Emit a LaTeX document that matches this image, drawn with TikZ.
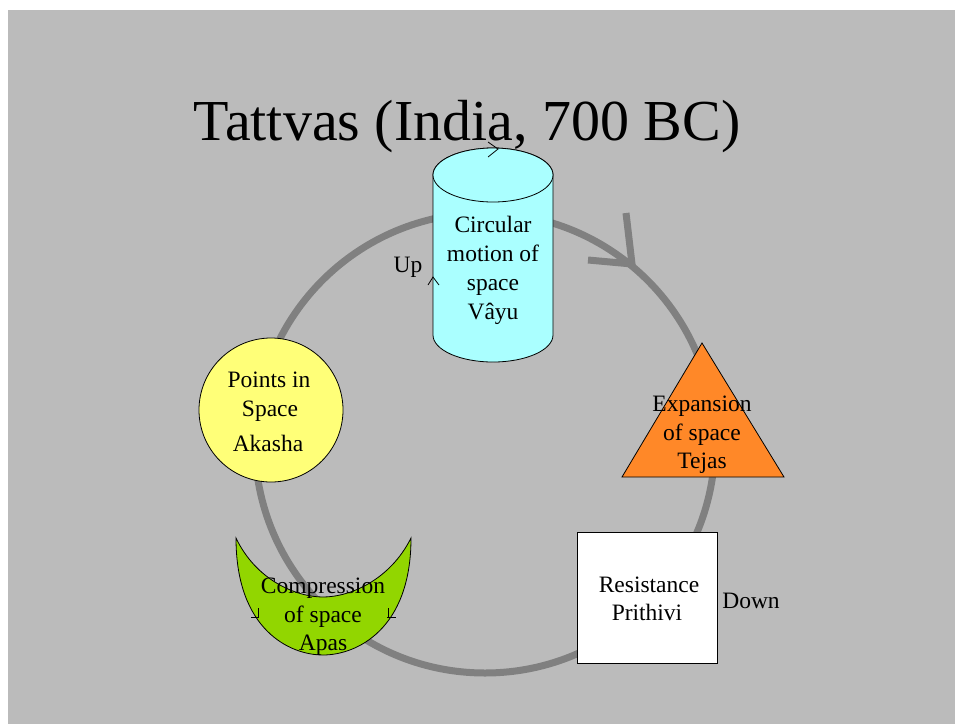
\documentclass[tikz,border=0pt]{standalone}
\usepackage{fontspec}
\setmainfont{Liberation Serif}
\definecolor{bggray}{RGB}{187,187,187}
\definecolor{cyclegray}{RGB}{128,128,128}
\definecolor{cylfill}{RGB}{170,255,255}
\definecolor{yelfill}{RGB}{255,255,120}
\definecolor{orafill}{RGB}{255,136,40}
\definecolor{grnfill}{RGB}{146,214,0}
\begin{document}
\begin{tikzpicture}[x=1pt,y=-1pt,
  lbl/.style={anchor=base,font=\fontsize{23.5}{29}\selectfont,inner sep=0pt},
  shapeline/.style={draw=black,line width=0.8pt},
  cycleline/.style={draw=cyclegray,line width=7pt}]
\useasboundingbox (0,0) rectangle (955,724);
\fill[white] (0,0) rectangle (955,724);
\fill[bggray] (8,10) rectangle (955,724);
% cycle
\draw[cycleline] (485,443) circle[radius=230pt];
\draw[cycleline,line cap=butt,line join=miter] (626,213) -- (632,264) -- (588,260);
% title
\node[anchor=base,inner sep=0pt,font=\fontsize{58}{70}\selectfont] (title) at (467,140) {Tattvas (India, 700 BC)};
% cylinder (Vayu)
\path[shapeline,fill=cylfill] (433,175) -- (433,335)
  arc[start angle=180,end angle=360,x radius=60pt,y radius=27pt] -- (553,175)
  arc[start angle=0,end angle=180,x radius=60pt,y radius=27pt] -- cycle;
\path[shapeline,fill=cylfill] (493,175) ellipse[x radius=60pt,y radius=27pt];
\draw[shapeline] (488,142) -- (498,149) -- (488,157);
\draw[shapeline] (428,285) -- (433,277) -- (439,285);
\node[lbl] (v1) at (493,232) {Circular};
\node[lbl] (v2) at (493,261) {motion of};
\node[lbl] (v3) at (493,290) {space};
\node[lbl] (v4) at (493,319) {Vâyu};
\node[lbl] (up) at (408,272) {Up};
% yellow circle (Akasha)
\path[shapeline,fill=yelfill] (271,410) circle[radius=72pt];
\node[lbl] (a1) at (269,387) {Points in};
\node[lbl] (a2) at (270,416) {Space};
\node[lbl] (a3) at (268,451) {Akasha};
% triangle (Tejas)
\path[shapeline,fill=orafill] (702,343) -- (784,477) -- (622,477) -- cycle;
\node[lbl] (t1) at (702,411) {Expansion};
\node[lbl] (t2) at (702,440) {of space};
\node[lbl] (t3) at (702,468) {Tejas};
% square (Prithivi)
\path[shapeline,fill=white] (577,532) rectangle (717,663);
\node[lbl] (p1) at (649,592) {Resistance};
\node[lbl] (p2) at (647,620) {Prithivi};
\node[lbl] (down) at (751,608) {Down};
% crescent (Apas)
\path[shapeline,fill=grnfill] (236,538) .. controls (236,630) and (290,655) .. (323,655)
  .. controls (356,655) and (411,630) .. (411,538)
  .. controls (390,580) and (350,597) .. (323,597)
  .. controls (296,597) and (256,580) .. (236,538) -- cycle;
\draw[shapeline] (251,617) -- (259,617) (258,608) -- (258,617);
\draw[shapeline] (387,617) -- (396,617) (388,608) -- (388,617);
\node[lbl] (g1) at (323,593) {Compression};
\node[lbl] (g2) at (323,622) {of space};
\node[lbl] (g3) at (323,650) {Apas};
\end{tikzpicture}
\end{document}
